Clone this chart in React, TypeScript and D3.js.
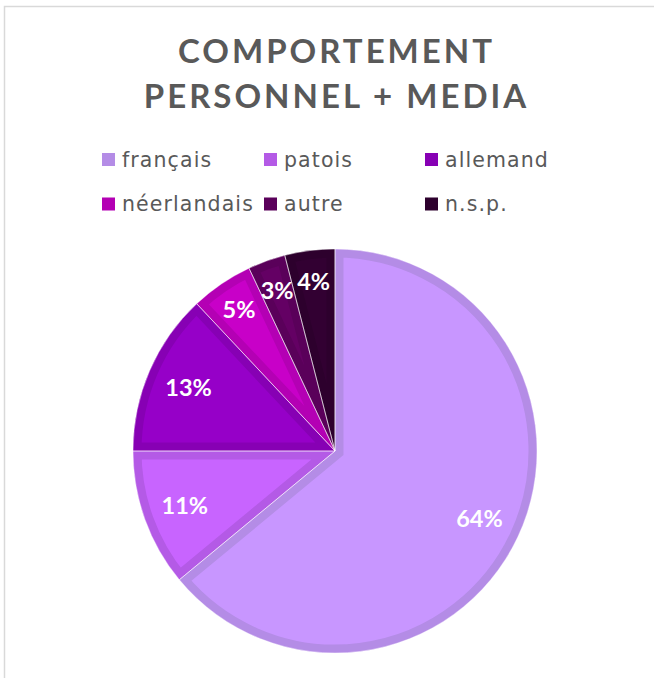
import React from "react";
import * as d3 from "d3";

const categories = ["français", "patois", "allemand", "néerlandais", "autre", "n.s.p."];
const values = [64, 11, 13, 5, 3, 4];
const fills = ["#c896ff", "#c864ff", "#9600c8", "#c800c8", "#640064", "#320032"];
const borders = ["#b48ce6", "#b45ae6", "#8700b4", "#b400b4", "#5a005a", "#2d002d"];
const titleLines = ["COMPORTEMENT", "PERSONNEL + MEDIA"];

const W = 654;
const H = 678;
const cx = 335;
const cy = 451;
const R = 202;

export default function App() {
  const pie = d3.pie<number>().sort(null).value((d) => d);
  const arcs = pie(values);
  const arc = d3.arc<d3.PieArcDatum<number>>().innerRadius(0).outerRadius(R);
  const labelArc = d3.arc<d3.PieArcDatum<number>>().innerRadius(R * 0.79).outerRadius(R * 0.79);
  const smallLabelArc = d3.arc<d3.PieArcDatum<number>>().innerRadius(R * 0.845).outerRadius(R * 0.845);

  const legendCols = [102, 264, 425];
  const legendBaselines = [166.5, 211];
  const font = "'Lato', 'DejaVu Sans', sans-serif";

  return (
    <svg
      width={W}
      height={H}
      style={{ position: "absolute", left: 0, top: 0, background: "#fff" }}
    >
      <rect x={4.5} y={6.5} width={700} height={720} fill="#fff" stroke="#d9d9d9" strokeWidth={1.5} />
      {titleLines.map((t, i) => (
        <text
          key={t}
          x={336.5}
          y={63 + i * 45}
          textAnchor="middle"
          fontFamily={font}
          fontWeight={700}
          fontSize={33}
          letterSpacing={3}
          fill="#595959"
        >
          {t}
        </text>
      ))}
      {categories.map((c, i) => {
        const x = legendCols[i % 3];
        const y = legendBaselines[Math.floor(i / 3)];
        return (
          <g key={c}>
            <rect x={x} y={y - 13.5} width={13} height={13} fill={borders[i]} />
            <text
              x={x + 20}
              y={y}
              fontFamily="'DejaVu Sans', sans-serif"
              fontSize={20.5}
              letterSpacing={1.1}
              fill="#595959"
            >
              {c}
            </text>
          </g>
        );
      })}
      <defs>
        {arcs.map((a, i) => (
          <clipPath id={`clip${i}`} key={i}>
            <path d={arc(a) || ""} transform={`translate(${cx},${cy})`} />
          </clipPath>
        ))}
      </defs>
      <g>
        {arcs.map((a, i) => (
          <g key={i} clipPath={`url(#clip${i})`}>
            <path
              d={arc(a) || ""}
              transform={`translate(${cx},${cy})`}
              fill={fills[i]}
              stroke={borders[i]}
              strokeWidth={17}
              strokeLinejoin="miter"
            />
          </g>
        ))}
        {arcs.map((a, i) => (
          <path
            key={"w" + i}
            d={arc(a) || ""}
            transform={`translate(${cx},${cy})`}
            fill="none"
            stroke="#fff"
            strokeWidth={0.8}
            strokeOpacity={0.6}
          />
        ))}
      </g>
      {arcs.map((a, i) => {
        const [lx, ly] = values[i] < 6 ? smallLabelArc.centroid(a) : labelArc.centroid(a);
        return (
          <text
            key={"l" + i}
            x={cx + lx}
            y={cy + ly}
            dy="0.36em"
            textAnchor="middle"
            fontFamily={font}
            fontWeight={700}
            fontSize={23.5}
            fill="#fff"
          >
            {values[i]}%
          </text>
        );
      })}
    </svg>
  );
}
